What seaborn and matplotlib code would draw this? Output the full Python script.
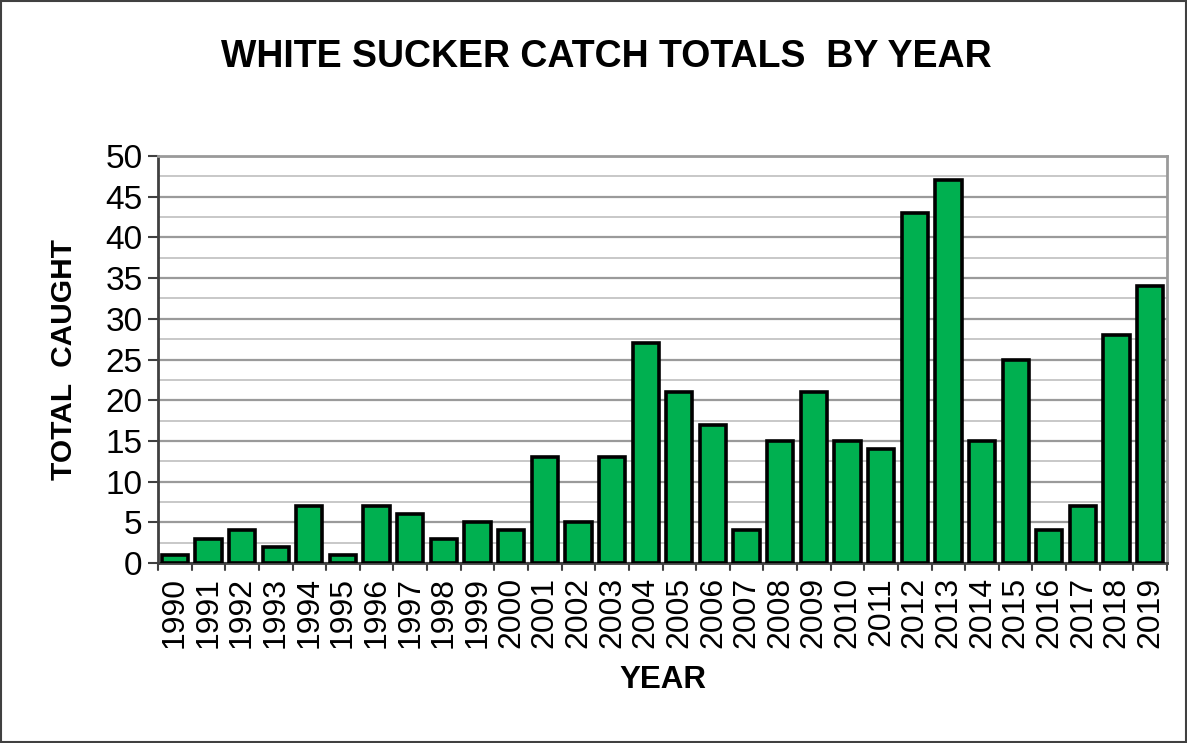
import numpy as np
import pandas as pd
import seaborn as sns
import matplotlib.pyplot as plt
from matplotlib.ticker import MultipleLocator

years = [str(y) for y in range(1990, 2020)]
caught = [1, 3, 4, 2, 7, 1, 7, 6, 3, 5, 4, 13, 5, 13, 27, 21, 17, 4, 15, 21,
          15, 14, 43, 47, 15, 25, 4, 7, 28, 34]

df = pd.DataFrame({'Year': years, 'Caught': caught})

sns.set_theme(style='white', rc={'text.color': 'black', 'axes.labelcolor': 'black',
                                 'xtick.color': 'black', 'ytick.color': 'black'})
plt.rcParams['font.family'] = ['Liberation Sans', 'DejaVu Sans']

fig = plt.figure(figsize=(11.87, 7.43), dpi=100)
ax = fig.add_axes([158/1187, 1 - 563/743, (1167-158)/1187, (563-156)/743])

sns.barplot(data=df, x='Year', y='Caught', color='#00B050', saturation=1,
            width=0.78, edgecolor='black', linewidth=2.6, ax=ax, zorder=3)

ax.set_ylim(0, 50)
ax.set_xlim(-0.5, len(years) - 0.5)
ax.yaxis.set_major_locator(MultipleLocator(5))
ax.yaxis.set_minor_locator(MultipleLocator(2.5))
ax.grid(which='major', axis='y', color='#9a9a9a', linewidth=1.6, zorder=0)
ax.grid(which='minor', axis='y', color='#c8c8c8', linewidth=1.4, zorder=0)
ax.set_axisbelow(True)

ax.tick_params(axis='y', which='major', length=7, width=1.5, color='#404040',
               labelsize=24, left=True, pad=4)
ax.tick_params(axis='y', which='minor', length=0)
ax.set_xticks(np.arange(len(years)))
ax.set_xticklabels(years, rotation=90, fontsize=23)
ax.tick_params(axis='x', length=0, pad=10)
for b in np.arange(len(years) + 1) - 0.5:
    ax.plot([b, b], [0, -0.0175], transform=ax.get_xaxis_transform(),
            color='#404040', lw=1.5, clip_on=False)

for s in ['left', 'bottom']:
    ax.spines[s].set_color('#404040')
    ax.spines[s].set_linewidth(2)
for s in ['top', 'right']:
    ax.spines[s].set_color('#9a9a9a')
    ax.spines[s].set_linewidth(2)

ax.set_xlabel('YEAR', fontsize=22.5, fontweight='bold', labelpad=12)
ax.set_ylabel('TOTAL  CAUGHT', fontsize=21.5, fontweight='bold', labelpad=20)
fig.text(606/1187, 1 - 57/743, 'WHITE SUCKER CATCH TOTALS  BY YEAR', ha='center',
         va='center', fontsize=27, fontweight='bold')

fig.patches.append(plt.Rectangle((0.001, 0.001), 0.998, 0.998, transform=fig.transFigure,
                                 fill=False, edgecolor='#404040', lw=1.5))

fig.savefig('out.png', dpi=100)
